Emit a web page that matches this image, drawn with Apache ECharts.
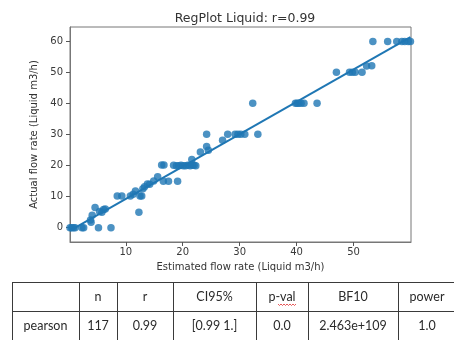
<!DOCTYPE html>
<html>
<head>
<meta charset="utf-8">
<script src="https://cdn.jsdelivr.net/npm/echarts@6/dist/echarts.min.js"></script>
<style>html,body{margin:0;padding:0;background:#fff}#c{width:454px;height:340px}</style>
</head>
<body>
<div id="c"></div>
<script>
// ---- data (estimated flow rate vs actual flow rate, Liquid m3/h) ----
const estimated = [0.2,0.5,0.8,1.1,2.3,2.6,5.2,7.4,
  3.8,3.9,4.1,4.6,5.4,5.8,6.1,6.4,
  8.5,9.3,10.8,11.3,11.7,12.3,12.5,12.8,13.0,13.3,13.8,14.2,14.9,15.6,
  16.3,16.7,16.6,17.5,19.1,18.4,18.9,19.3,19.7,20.1,20.5,20.9,21.3,21.7,22.0,21.6,22.3,
  23.1,24.2,24.2,24.5,27.0,27.9,29.2,29.7,30.2,30.9,33.2,32.3,
  39.8,40.1,40.4,40.8,41.3,43.6,
  47.0,49.3,49.8,50.3,51.5,52.3,53.2,
  53.4,56.0,57.6,58.5,59.0,59.6,60.0];
const actual = [0,0,0,0,0,0,0,0,
  2.5,1.8,4.0,6.5,5.2,5.0,5.9,6.0,
  10.2,10.2,10.2,10.8,11.8,5.0,10.2,10.2,12.6,13.2,14.1,14.0,15.1,16.4,
  20.2,20.2,15.0,15.0,15.0,20.1,20.0,20.0,20.1,20.0,20.0,20.1,20.0,20.1,20.1,22.0,20.0,
  24.4,26.2,30.1,25.0,28.2,30.1,30.1,30.1,30.1,30.1,30.1,40.1,
  40.1,40.1,40.1,40.1,40.1,40.1,
  50.1,50.1,50.1,50.1,50.1,52.1,52.2,
  60.0,60.0,60.0,60.0,60.0,60.0,60.0];
const xTicks = [10,20,30,40,50];
const yTicks = [0,10,20,30,40,50,60];
const chartTitle = 'RegPlot Liquid: r=0.99';
const xName = 'Estimated flow rate (Liquid m3/h)';
const yName = 'Actual flow rate (Liquid m3/h)';
const tableHeader = ['', 'n', 'r', 'CI95%', 'p-val', 'BF10', 'power'];
const tableRow = ['pearson', '117', '0.99', '[0.99 1.]', '0.0', '2.463e+109', '1.0'];

// ---- linear regression fit from the data ----
const n = estimated.length;
const mx = estimated.reduce((a,b)=>a+b,0)/n;
const my = actual.reduce((a,b)=>a+b,0)/n;
let sxy=0,sxx=0;
for(let i=0;i<n;i++){sxy+=(estimated[i]-mx)*(actual[i]-my);sxx+=(estimated[i]-mx)**2;}
const slope = sxy/sxx, icpt = my - slope*mx;
const xMin = Math.min(...estimated), xMax = Math.max(...estimated);
const fitLine = [[xMin, icpt+slope*xMin],[xMax, icpt+slope*xMax]];
const points = estimated.map((x,i)=>[x, actual[i]]);

// ---- table graphics (layout) ----
const colEdges = [12, 79, 117, 173, 256, 308, 398, 456];
const rowEdges = [282, 311, 341];
const lineColor = '#3a3a3a';
const tFont = '12.5px Lato, "Open Sans", sans-serif';
const g = [];
rowEdges.forEach(y => g.push({type:'line', shape:{x1:colEdges[0], y1:y+0.5, x2:colEdges[colEdges.length-1], y2:y+0.5}, style:{stroke:lineColor, lineWidth:1}}));
colEdges.forEach(x => g.push({type:'line', shape:{x1:x+0.5, y1:rowEdges[0], x2:x+0.5, y2:rowEdges[2]}, style:{stroke:lineColor, lineWidth:1}}));
[tableHeader, tableRow].forEach((row, r) => {
  row.forEach((t, c) => {
    g.push({type:'text', x:(colEdges[c]+colEdges[c+1])/2, y:(rowEdges[r]+rowEdges[r+1])/2,
      style:{text:t, font:tFont, fill:'#2a2a2a', align:'center', verticalAlign:'middle'}});
  });
});
// spell-check squiggle under "val"
(function(){
  const pts=[]; const x0=278, x1=296, y0=304.5;
  for(let x=x0, k=0; x<=x1; x+=1.5, k++) pts.push([x, y0 + (k%2?1:-0.5)]);
  g.push({type:'polyline', shape:{points:pts}, style:{stroke:'#e03030', lineWidth:0.8, fill:null}});
})();

const tickFont = {fontFamily:'DejaVu Sans', fontSize:10, color:'#3a3a3a'};
const chart = echarts.init(document.getElementById('c'), null, {renderer:'canvas'});
chart.setOption({
  animation:false,
  backgroundColor:'#fff',
  title:{text:chartTitle, left:240, top:7, textAlign:'center',
    textStyle:{fontFamily:'DejaVu Sans', fontSize:12.5, fontWeight:'normal', color:'#333'}},
  grid:{left:70, right:43, top:27, bottom:98, show:true, borderColor:'#777', borderWidth:1, backgroundColor:'transparent'},
  xAxis:{type:'value', min:0.2, max:60.1,
    name:xName, nameLocation:'middle', nameGap:20,
    nameTextStyle:{fontFamily:'DejaVu Sans', fontSize:10, color:'#333'},
    axisLine:{onZero:false, lineStyle:{color:'#777'}},
    axisTick:{show:true, length:4, customValues:xTicks, lineStyle:{color:'#555'}},
    axisLabel:Object.assign({customValues:xTicks, margin:5}, tickFont),
    splitLine:{show:false}},
  yAxis:{type:'value', min:-4.6, max:64.7,
    name:yName, nameLocation:'middle', nameGap:26, nameRotate:90,
    nameTextStyle:{fontFamily:'DejaVu Sans', fontSize:10, color:'#333'},
    axisLine:{show:true, onZero:false, lineStyle:{color:'#777'}},
    axisTick:{show:true, length:4, customValues:yTicks, lineStyle:{color:'#555'}},
    axisLabel:Object.assign({customValues:yTicks, margin:7}, tickFont),
    splitLine:{show:false}},
  series:[
    {type:'scatter', data:points, symbolSize:7.5,
      itemStyle:{color:'#1f77b4', opacity:0.8}},
    {type:'line', data:fitLine, showSymbol:false, symbol:'none',
      lineStyle:{color:'#1f77b4', width:2}, z:3}
  ],
  graphic:g
});
</script>
</body>
</html>
